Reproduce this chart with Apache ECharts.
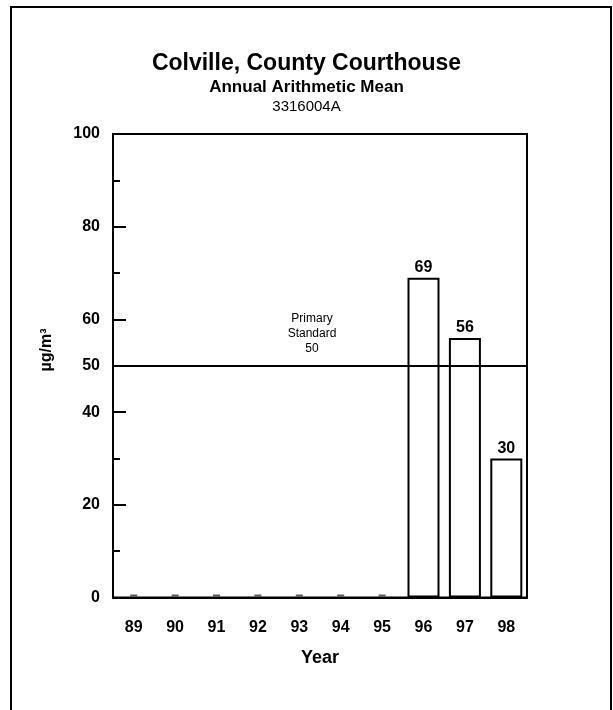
<!DOCTYPE html>
<html>
<head>
<meta charset="utf-8">
<script src="https://cdn.jsdelivr.net/npm/echarts@6/dist/echarts.min.js"></script>
<style>
html,body{margin:0;padding:0;background:#fff;}
#chart{width:613px;height:710px;}
</style>
</head>
<body>
<div id="chart"></div>
<script>
var years = ['89','90','91','92','93','94','95','96','97','98'];
var values = [0,0,0,0,0,0,0,69,56,30];
var standardValue = 50;
var standardLabel = 'Primary\nStandard\n50';
var titleText = 'Colville, County Courthouse';
var subtitleText = 'Annual Arithmetic Mean';
var siteText = '3316004A';
var yAxisName = 'µg/m³';
var xAxisName = 'Year';

var FONT = '"Liberation Sans", Arial, sans-serif';
var chart = echarts.init(document.getElementById('chart'), null, {renderer:'canvas'});

var barData = values.map(function(v){ return v > 0 ? v : null; });
var zeroData = values.map(function(v){ return v === 0 ? 0 : null; });

chart.setOption({
  backgroundColor:'#fff',
  animation:false,
  title:[
    {text:titleText, left:'center', top:47, textStyle:{fontFamily:FONT, fontSize:23, fontWeight:'bold', color:'#000'}},
    {text:subtitleText, left:'center', top:74, textStyle:{fontFamily:FONT, fontSize:17, fontWeight:'bold', color:'#000'}},
    {text:siteText, left:'center', top:94, textStyle:{fontFamily:FONT, fontSize:15, fontWeight:'normal', color:'#000'}}
  ],
  graphic:[
    {type:'rect', shape:{x:11, y:7, width:600, height:730}, style:{fill:null, stroke:'#000', lineWidth:2}, silent:true},
    {type:'text', x:47, y:350, rotation:Math.PI/2, silent:true,
      style:{text:yAxisName, fill:'#000', font:'bold 16px "Liberation Sans", Arial, sans-serif', textAlign:'center', textVerticalAlign:'middle'}}
  ],
  grid:{left:113, top:134, right:86, bottom:112.5, show:true, borderColor:'#000', borderWidth:2, backgroundColor:'transparent'},
  xAxis:{
    type:'category', data:years,
    axisLine:{show:true, lineStyle:{color:'#000', width:2}},
    axisTick:{show:false},
    axisLabel:{margin:22, fontFamily:FONT, fontSize:16, fontWeight:'bold', color:'#000'},
    name:xAxisName, nameLocation:'middle', nameGap:52,
    nameTextStyle:{fontFamily:FONT, fontSize:18, fontWeight:'bold', color:'#000'}
  },
  yAxis:[
    {
      type:'value', min:0, max:100, interval:10, position:'left',
      axisLine:{show:true, lineStyle:{color:'#000', width:2}},
      axisTick:{show:true, inside:true, length:7, lineStyle:{color:'#000', width:2}},
      splitLine:{show:false},
      axisLabel:{margin:13, fontFamily:FONT, fontSize:16, fontWeight:'bold', color:'#000',
        formatter:function(v){ return v === standardValue ? String(v) : ''; }}
    },
    {
      type:'value', min:0, max:100, interval:20, position:'left', offset:0,
      axisLine:{show:false},
      axisTick:{show:true, inside:true, length:13, lineStyle:{color:'#000', width:2}},
      splitLine:{show:false},
      axisLabel:{margin:13, fontFamily:FONT, fontSize:16, fontWeight:'bold', color:'#000'}
    }
  ],
  series:[
    {
      type:'line', yAxisIndex:1, data:[], z:1,
      markLine:{
        silent:true, symbol:['none','none'], animation:false,
        lineStyle:{color:'#000', width:2, type:'solid'},
        label:{show:true, position:'insideMiddleTop', formatter:standardLabel, distance:10, offset:[-8,0],
          fontFamily:FONT, fontSize:12, lineHeight:15, color:'#000', align:'center'},
        data:[{yAxis:standardValue}]
      }
    },
    {
      type:'bar', yAxisIndex:1, data:barData, barWidth:32, z:3,
      itemStyle:{color:'#fff', borderColor:'#000', borderWidth:2},
      label:{show:true, position:'top', distance:2, fontFamily:FONT, fontSize:16, fontWeight:'bold', color:'#000'}
    },
    {
      type:'scatter', yAxisIndex:1, data:zeroData, symbol:'rect', symbolSize:[7,2], symbolOffset:[0,-2], z:4,
      itemStyle:{color:'#333'}
    }
  ]
});
</script>
</body>
</html>
